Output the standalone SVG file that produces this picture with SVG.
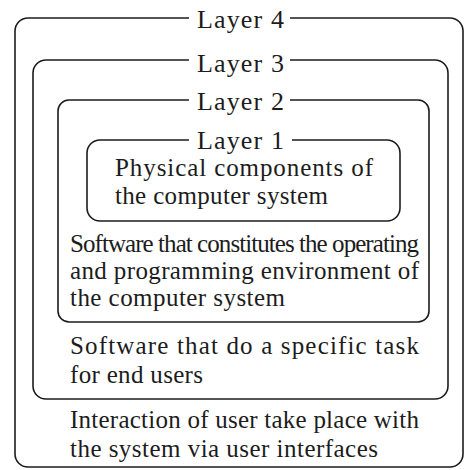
<svg xmlns="http://www.w3.org/2000/svg" width="465" height="470" viewBox="0 0 465 470">
<style>
.box{fill:none;stroke:#1c1c1c;stroke-width:1.6}
.gap{fill:#ffffff;stroke:none}
.lbl{font-family:"Liberation Serif","Times New Roman",serif;font-size:26px;fill:#1c1c1c}
.txt{font-family:"Liberation Serif","Times New Roman",serif;font-size:25px;fill:#1c1c1c}
</style>
<rect width="465" height="470" fill="#ffffff"/>
<g id="layer4">
<rect class="box" x="15" y="18" width="448" height="449" rx="13"/>
<rect class="gap" x="189" y="10" width="101" height="16"/>
<text class="lbl" x="197" y="28" textLength="87" lengthAdjust="spacing">Layer 4</text>
<text class="txt" x="70" y="428" textLength="349" lengthAdjust="spacing">Interaction of user take place with</text>
<text class="txt" x="70" y="457" textLength="308" lengthAdjust="spacing">the system via user interfaces</text>
</g>
<g id="layer3">
<rect class="box" x="33" y="60" width="415" height="339" rx="13"/>
<rect class="gap" x="189" y="52" width="101" height="16"/>
<text class="lbl" x="197" y="72" textLength="87" lengthAdjust="spacing">Layer 3</text>
<text class="txt" x="70" y="354" textLength="349" lengthAdjust="spacing">Software that do a specific task</text>
<text class="txt" x="70" y="383" textLength="133" lengthAdjust="spacing">for end users</text>
</g>
<g id="layer2">
<rect class="box" x="58" y="100" width="371" height="222" rx="11"/>
<rect class="gap" x="189" y="92" width="101" height="16"/>
<text class="lbl" x="197" y="110" textLength="87" lengthAdjust="spacing">Layer 2</text>
<text class="txt" x="70" y="252" textLength="349" lengthAdjust="spacing">Software that constitutes the operating</text>
<text class="txt" x="70" y="279" textLength="349" lengthAdjust="spacing">and programming environment of</text>
<text class="txt" x="70" y="306" textLength="215" lengthAdjust="spacing">the computer system</text>
</g>
<g id="layer1">
<rect class="box" x="87" y="140" width="313" height="81" rx="13"/>
<rect class="gap" x="189" y="132" width="103" height="16"/>
<text class="lbl" x="197" y="149" textLength="87" lengthAdjust="spacing">Layer 1</text>
<text class="txt" x="115" y="176" textLength="258" lengthAdjust="spacing">Physical components of</text>
<text class="txt" x="115" y="204" textLength="213" lengthAdjust="spacing">the computer system</text>
</g>
<g id="connectors"></g>
</svg>
